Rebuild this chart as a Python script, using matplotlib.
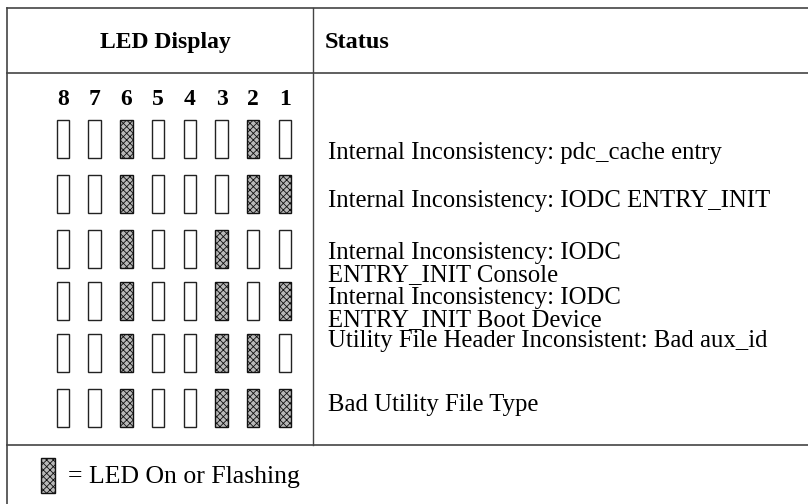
import matplotlib.pyplot as plt
from matplotlib.patches import Rectangle

plt.rcParams['font.family'] = ['Liberation Serif', 'DejaVu Serif']
plt.rcParams['hatch.linewidth'] = 0.6

# LED numbers, left to right
led_numbers = [8, 7, 6, 5, 4, 3, 2, 1]

# which LEDs are on (1) per row, in the same order as led_numbers
led_states = [
    [0, 0, 1, 0, 0, 0, 1, 0],
    [0, 0, 1, 0, 0, 0, 1, 1],
    [0, 0, 1, 0, 0, 1, 0, 0],
    [0, 0, 1, 0, 0, 1, 0, 1],
    [0, 0, 1, 0, 0, 1, 1, 0],
    [0, 0, 1, 0, 0, 1, 1, 1],
]

status_texts = [
    "Internal Inconsistency: pdc_cache entry",
    "Internal Inconsistency: IODC ENTRY_INIT",
    "Internal Inconsistency: IODC\nENTRY_INIT Console",
    "Internal Inconsistency: IODC\nENTRY_INIT Boot Device",
    "Utility File Header Inconsistent: Bad aux_id",
    "Bad Utility File Type",
]

header_led = "LED Display"
header_status = "Status"
legend_text = "= LED On or Flashing"

# layout in pixels
W, H = 808, 504
col_x0, col_dx = 63, 31.7
box_w, box_h = 12.5, 38
row_tops = [120, 175, 230, 282, 334, 389]
text_baselines = [159, 207, 259, 304, 347, 411]
line_gap = 22
line_col = '#444444'
on_face = '#b8b8b8'

fig = plt.figure(figsize=(W / 100, H / 100), dpi=100)
ax = fig.add_axes([0, 0, 1, 1])
ax.set_xlim(0, W)
ax.set_ylim(H, 0)
ax.axis('off')

# table rules
ax.plot([7, W], [8, 8], color=line_col, lw=1.2)
ax.plot([7, W], [73, 73], color=line_col, lw=1.2)
ax.plot([7, W], [445, 445], color=line_col, lw=1.2)
ax.plot([7, 7], [8, H], color=line_col, lw=1.2)
ax.plot([313, 313], [8, 445], color=line_col, lw=1.0)

# headers
ax.text(165, 48, header_led, fontsize=17, fontweight='bold',
        ha='center', va='baseline')
ax.text(325, 48, header_status, fontsize=17.5, fontweight='bold',
        ha='left', va='baseline')

# LED numbers
for i, n in enumerate(led_numbers):
    ax.text(col_x0 + i * col_dx, 105, str(n), fontsize=17, fontweight='bold',
            ha='center', va='baseline')


def led(x, y, on, w=box_w, h=box_h):
    if on:
        ax.add_patch(Rectangle((x - w / 2, y), w, h, facecolor=on_face,
                               edgecolor='#111111', lw=1.0, hatch='xxxxx'))
    else:
        ax.add_patch(Rectangle((x - w / 2, y), w, h, facecolor='white',
                               edgecolor='#222222', lw=1.0))


for r, states in enumerate(led_states):
    for i, s in enumerate(states):
        led(col_x0 + i * col_dx, row_tops[r], s)

# status texts
for r, txt in enumerate(status_texts):
    for k, line in enumerate(txt.split('\n')):
        ax.text(328, text_baselines[r] + k * line_gap, line, fontsize=17.8,
                ha='left', va='baseline')

# legend
led(47.5, 458, 1, w=14, h=35)
ax.text(68, 483, legend_text, fontsize=18.5, ha='left', va='baseline')

fig.savefig('out.png', dpi=100)
